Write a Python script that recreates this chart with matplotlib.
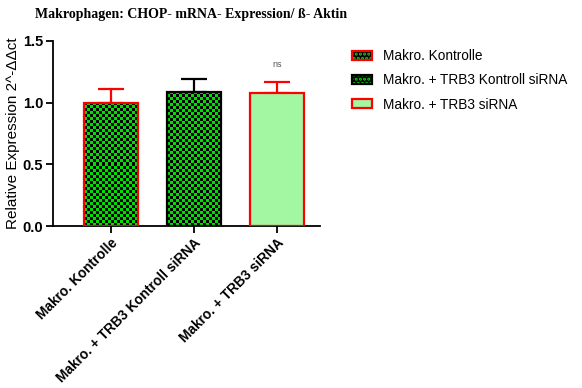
import numpy as np
import matplotlib
matplotlib.use("Agg")
import matplotlib.pyplot as plt
from matplotlib.patches import Patch
from matplotlib.legend_handler import HandlerTuple
from matplotlib.transforms import ScaledTranslation

groups = ["Makro. Kontrolle", "Makro. + TRB3 Kontroll siRNA", "Makro. + TRB3 siRNA"]
means = [1.00, 1.09, 1.08]
sem = [0.11, 0.10, 0.09]
edge_colors = ["#ff0000", "#000000", "#ff0000"]
checker = [True, True, False]
fill_colors = ["#00e000", "#00e000", "#a3f7a3"]

plt.rcParams["font.family"] = ["Liberation Sans", "DejaVu Sans"]
plt.rcParams["hatch.color"] = "#00e000"
plt.rcParams["hatch.linewidth"] = 1.5

fig = plt.figure(figsize=(5.82, 3.88), dpi=100)
ax = fig.add_axes([0.091, 0.4175, 0.459, 0.477])

x = np.arange(len(groups))
width = 0.65
bars = ax.bar(x, means, width, color=fill_colors, edgecolor="none", zorder=2)

# checkerboard fill, clipped to the bar
for b, chk in zip(bars, checker):
    if not chk:
        continue
    nx = 18
    ny = int(round(b.get_height() * 124 / 3))
    board = (np.add.outer(np.arange(ny), np.arange(nx)) % 2).astype(float)
    im = ax.imshow(board, cmap=matplotlib.colors.ListedColormap(["#000000", "#00e000"]),
                   extent=(b.get_x(), b.get_x() + b.get_width(), 0, b.get_height()),
                   aspect="auto", interpolation="nearest", zorder=2.5)
    im.set_clip_path(b)

ax.bar(x, means, width, fill=False, edgecolor=edge_colors, linewidth=1.6, zorder=3)
for xi, m, s, c in zip(x, means, sem, edge_colors):
    ax.errorbar(xi, m, yerr=[[0], [s]], fmt="none", ecolor=c, elinewidth=1.6,
                capsize=9.5, capthick=1.6, zorder=1.5)

ax.text(x[2], means[2] + sem[2] + 0.14, "ns", ha="center", va="center",
        fontsize=6.5, color="#555555")

ax.set_xlim(-0.7, 2.52)
ax.set_ylim(0, 1.5)
ax.set_yticks([0.0, 0.5, 1.0, 1.5])
ax.set_yticklabels(["0.0", "0.5", "1.0", "1.5"], fontweight="bold", fontsize=10.5)
ax.set_xticks(x)
ax.set_xticklabels(groups, rotation=45, ha="right", rotation_mode="anchor",
                   fontweight="bold", fontsize=9.9)
shift = ScaledTranslation(-4 / 72, 0, fig.dpi_scale_trans)
for lab in ax.get_xticklabels():
    lab.set_transform(lab.get_transform() + shift)
ax.set_ylabel("Relative Expression 2^-ΔΔct", fontsize=11)
for side in ["top", "right"]:
    ax.spines[side].set_visible(False)
for side in ["left", "bottom"]:
    ax.spines[side].set_linewidth(1.3)
ax.tick_params(width=1.3, length=5, pad=2)
ax.yaxis.set_label_coords(-0.125, 0.5)

fig.text(0.06, 0.963, "Makrophagen: CHOP- mRNA- Expression/ ß- Aktin",
         fontfamily="Liberation Serif", fontweight="bold", fontsize=10, va="center")

handles = []
for fc, ec, chk in zip(fill_colors, edge_colors, checker):
    if chk:
        handles.append((Patch(facecolor="#000000", hatch="....", edgecolor=None, lw=0),
                        Patch(fill=False, edgecolor=ec, lw=1.6)))
    else:
        handles.append(Patch(facecolor=fc, edgecolor=ec, lw=1.6))
fig.legend(handles, groups, handler_map={tuple: HandlerTuple(ndivide=1)},
           loc="upper left", bbox_to_anchor=(0.583, 0.905), frameon=False,
           fontsize=9.8, handlelength=1.5, handleheight=0.6, handletextpad=0.8,
           labelspacing=0.75)

fig.savefig("out.png", dpi=100)
